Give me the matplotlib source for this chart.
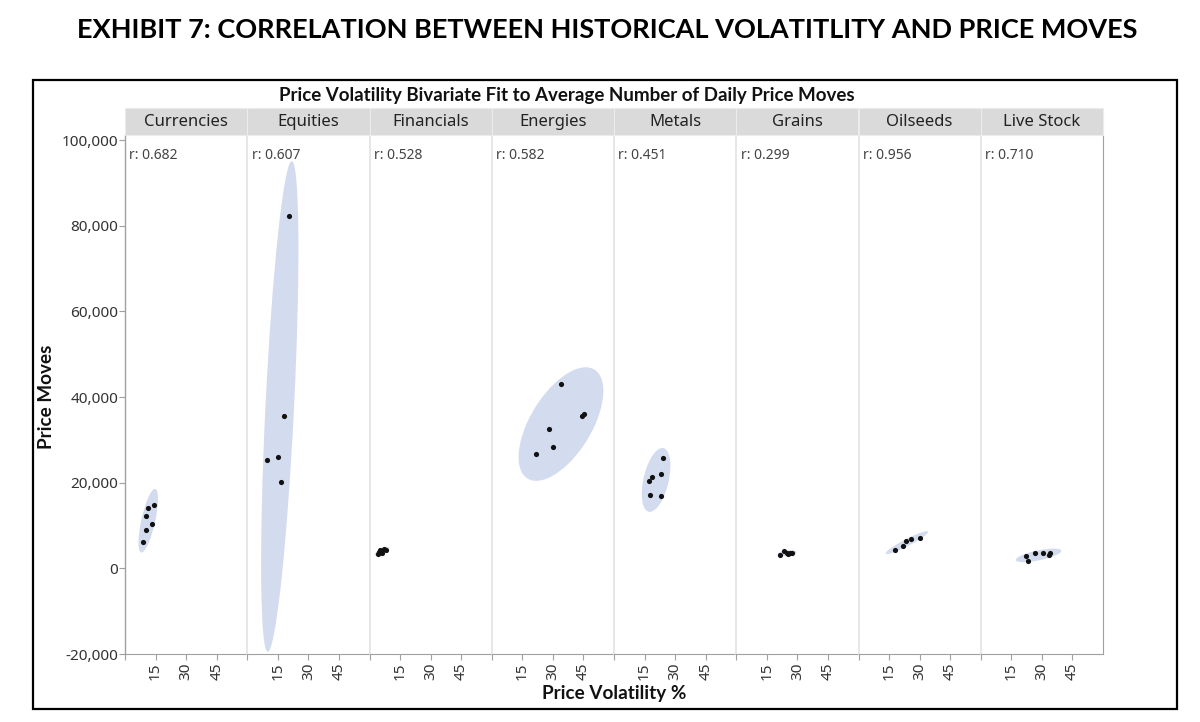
import numpy as np
import matplotlib
matplotlib.use("Agg")
import matplotlib.pyplot as plt
from matplotlib.patches import Ellipse, Rectangle
from matplotlib.ticker import FuncFormatter

# ---------------- data ----------------
categories = ["Currencies", "Equities", "Financials", "Energies",
              "Metals", "Grains", "Oilseeds", "Live Stock"]
r_values = ["0.682", "0.607", "0.528", "0.582", "0.451", "0.299", "0.956", "0.710"]

currencies_x = [14.4, 11.3, 10.3, 13.4, 10.3, 8.7]
currencies_y = [14900, 14100, 12300, 10450, 8850, 6150]

equities_x = [20.3, 18.2, 15.2, 9.5, 16.6]
equities_y = [82300, 35500, 25900, 25200, 20100]

financials_x = [4.3, 5.3, 6.3, 7.3, 8.3, 4.8]
financials_y = [3300, 4200, 3700, 4500, 4400, 3900]

energies_x = [34.1, 44.1, 45.4, 28.2, 30.2, 21.8]
energies_y = [43000, 35500, 36100, 32500, 28400, 26700]

metals_x = [24.1, 23.3, 18.5, 17.4, 17.6, 23.0]
metals_y = [25800, 22100, 21400, 20500, 17100, 17000]

grains_x = [21.6, 23.6, 24.9, 26.4, 27.4, 25.5]
grains_y = [3150, 4000, 3500, 3600, 3700, 3300]

oilseeds_x = [17.7, 21.6, 23.5, 25.7, 30.2]
oilseeds_y = [4300, 5300, 6400, 6900, 7150]

livestock_x = [22.3, 23.3, 26.7, 30.5, 33.3, 33.9]
livestock_y = [2800, 1700, 3500, 3500, 3200, 3500]

x_ticks = [0, 15, 30, 45]
x_tick_labels = ["", "15", "30", "45"]
y_ticks = [-20000, 0, 20000, 40000, 60000, 80000, 100000]

series_x = [currencies_x, equities_x, financials_x, energies_x,
            metals_x, grains_x, oilseeds_x, livestock_x]
series_y = [currencies_y, equities_y, financials_y, energies_y,
            metals_y, grains_y, oilseeds_y, livestock_y]

# ---------------- style ----------------
W, H = 1200, 722
fig = plt.figure(figsize=(W / 100, H / 100), dpi=100)
inner_font = ["Noto Sans", "DejaVu Sans"]
bold_font = ["Lato", "DejaVu Sans"]
title_font = ["Lato", "DejaVu Sans"]

ELL_COLOR = "#d3dbef"
SEP_COLOR = "#e3e3e3"
AX_COLOR = "#a0a0a0"
TXT_COLOR = "#333333"
STRIP_COLOR = "#dadada"

left_px, right_px = 125, 1103
top_px, bottom_px = 135, 654
strip_top_px = 108
n = len(categories)
pw = (right_px - left_px) / n
ax_h = (bottom_px - top_px) / H
level_k = -2 * np.log(1 - 0.92)  # density ellipse level

axes = []
for i, cat in enumerate(categories):
    x0 = (left_px + i * pw) / W
    ax = fig.add_axes([x0, (H - bottom_px) / H, pw / W, ax_h])
    axes.append(ax)
    ax.set_xlim(0, 60)
    ax.set_ylim(-20000, 101200)

    xs = np.array(series_x[i], float)
    ys = np.array(series_y[i], float)
    cov = np.cov(xs, ys)
    vals, vecs = np.linalg.eigh(cov)
    order = vals.argsort()[::-1]
    vals, vecs = vals[order], vecs[:, order]
    ang = np.degrees(np.arctan2(vecs[1, 0], vecs[0, 0]))
    ell = Ellipse((xs.mean(), ys.mean()), 2 * np.sqrt(level_k * vals[0]),
                  2 * np.sqrt(level_k * vals[1]), angle=ang,
                  facecolor=ELL_COLOR, edgecolor="none", zorder=1)
    ax.add_patch(ell)
    ax.scatter(xs, ys, s=14, color="#111111", zorder=3, linewidths=0)

    # spines
    ax.spines["top"].set_visible(False)
    ax.spines["bottom"].set_color(AX_COLOR)
    ax.spines["left"].set_color(AX_COLOR if i == 0 else SEP_COLOR)
    ax.spines["left"].set_linewidth(1.0 if i == 0 else 1.2)
    if i == n - 1:
        ax.spines["right"].set_color(AX_COLOR)
    else:
        ax.spines["right"].set_visible(False)

    ax.set_xticks(x_ticks)
    ax.set_xticklabels(x_tick_labels, rotation=90, fontsize=11,
                       family=inner_font, color=TXT_COLOR)
    ax.tick_params(axis="x", colors=AX_COLOR, length=4, width=0.8, pad=2,
                   labelcolor=TXT_COLOR)
    if i == 0:
        ax.set_yticks(y_ticks)
        ax.yaxis.set_major_formatter(FuncFormatter(lambda v, p: f"{int(v):,}"))
        for lab in ax.get_yticklabels():
            lab.set_family(inner_font)
            lab.set_fontsize(11)
        ax.tick_params(axis="y", colors=AX_COLOR, length=4, width=0.8, pad=1,
                       labelcolor=TXT_COLOR)
    else:
        ax.set_yticks([])
    ax.set_facecolor("white")

    # r label
    ax.text(0.035, 0.975, f"r: {r_values[i]}", transform=ax.transAxes,
            ha="left", va="top", fontsize=10, family=inner_font, color="#444444")

    # strip header
    sh = (top_px - strip_top_px) / H
    fig.patches.append(Rectangle((x0, (H - top_px) / H), pw / W, sh,
                                 transform=fig.transFigure, facecolor=STRIP_COLOR,
                                 edgecolor="#ececec", linewidth=0.8, zorder=2))
    fig.text(x0 + pw / W / 2, (H - top_px) / H + sh / 2 - 0.001, cat,
             ha="center", va="center", fontsize=12, family=inner_font,
             color="#222222", zorder=3)

# titles / labels
fig.text(607 / W, 1 - 30 / H,
         "EXHIBIT 7: CORRELATION BETWEEN HISTORICAL VOLATITLITY AND PRICE MOVES",
         ha="center", va="center", fontsize=19.5, fontweight="bold", family=title_font)
fig.text(567 / W, 1 - 95 / H,
         "Price Volatility Bivariate Fit to Average Number of Daily Price Moves",
         ha="center", va="center", fontsize=13.5, fontweight="bold", family=bold_font,
         color="#111111")
fig.text(614 / W, 1 - 693 / H, "Price Volatility %", ha="center", va="center",
         fontsize=13.6, fontweight="bold", family=bold_font, color="#111111")
fig.text(46 / W, 1 - 397 / H, "Price Moves", ha="center", va="center",
         rotation=90, fontsize=13.6, fontweight="bold", family=bold_font,
         color="#111111")

# outer border
fig.patches.append(Rectangle((33 / W, 1 - 709 / H), (1177 - 33) / W, (709 - 80) / H,
                             transform=fig.transFigure, facecolor="none",
                             edgecolor="black", linewidth=1.6, zorder=5))

fig.savefig("out.png", dpi=100)
